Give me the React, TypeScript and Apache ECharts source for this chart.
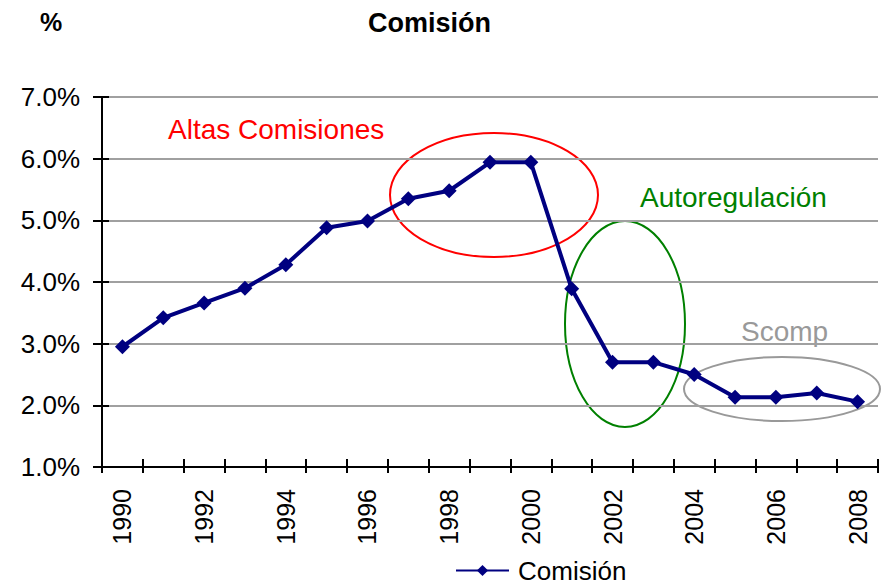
import React, { useEffect, useRef } from "react";
import * as echarts from "echarts";

const years = ["1990","1991","1992","1993","1994","1995","1996","1997","1998","1999","2000","2001","2002","2003","2004","2005","2006","2007","2008"];
const comision = [2.95, 3.42, 3.66, 3.9, 4.28, 4.88, 4.99, 5.35, 5.48, 5.94, 5.94, 3.89, 2.7, 2.7, 2.5, 2.13, 2.13, 2.2, 2.06];
const yTicks = { min: 1, max: 7, interval: 1 };
const seriesName = "Comisión";

const FONT = "Arial, 'Liberation Sans', sans-serif";

export default function App() {
  const ref = useRef<HTMLDivElement>(null);
  useEffect(() => {
    if (!ref.current) return;
    const chart = echarts.init(ref.current, null, { renderer: "svg" });
    chart.setOption({
      animation: false,
      backgroundColor: "#ffffff",
      textStyle: { fontFamily: FONT },
      title: [
        { text: "%", left: 35, top: 4, textStyle: { fontSize: 25, fontWeight: "bold", color: "#000", fontFamily: FONT } },
        { text: "Comisión", left: 363, top: 4, textStyle: { fontSize: 27, fontWeight: "bold", color: "#000", fontFamily: FONT } },
      ],
      legend: {
        data: [seriesName],
        left: 455,
        top: 557,
        padding: 0,
        itemWidth: 53,
        itemHeight: 14,
        textStyle: { fontSize: 26, lineHeight: 27, color: "#000", fontFamily: FONT, padding: [0, 0, 0, 4] },
      },
      grid: { left: 102, right: 9, top: 97, bottom: 119, containLabel: false },
      xAxis: [
        {
          type: "category",
          data: years,
          position: "bottom",
          axisLine: { lineStyle: { color: "#000", width: 2 } },
          axisTick: { show: true, interval: 0, length: 6, inside: false, lineStyle: { color: "#000", width: 2 } },
          axisLabel: { interval: 1, rotate: 90, margin: 22, fontSize: 25, color: "#000", fontFamily: FONT },
          splitLine: { show: false },
        },
        {
          type: "category",
          data: years,
          position: "bottom",
          axisLine: { show: false },
          axisTick: { show: true, interval: 0, length: 8, inside: true, lineStyle: { color: "#000", width: 2 } },
          axisLabel: { show: false },
          splitLine: { show: false },
        },
      ],
      yAxis: [
        {
          type: "value",
          min: yTicks.min,
          max: yTicks.max,
          interval: yTicks.interval,
          position: "left",
          axisLine: { show: true, lineStyle: { color: "#000", width: 2 } },
          axisTick: { show: true, length: 9, lineStyle: { color: "#000", width: 2 } },
          axisLabel: { margin: 22, fontSize: 26, color: "#000", fontFamily: FONT, formatter: (v: number) => v.toFixed(1) + "%" },
          splitLine: { show: true, lineStyle: { color: "#a0a0a0", width: 2 } },
        },
        {
          type: "value",
          min: yTicks.min,
          max: yTicks.max,
          interval: yTicks.interval,
          position: "left",
          axisLine: { show: false },
          axisTick: { show: true, inside: true, length: 7, lineStyle: { color: "#000", width: 2 } },
          axisLabel: { show: false },
          splitLine: { show: false },
        },
      ],
      series: [
        {
          name: seriesName,
          type: "line",
          data: comision,
          xAxisIndex: 0,
          yAxisIndex: 0,
          symbol: "diamond",
          symbolSize: 15,
          showAllSymbol: true,
          itemStyle: { color: "#000080" },
          lineStyle: { color: "#000080", width: 4 },
        },
      ],
      graphic: [
        { type: "ellipse", shape: { cx: 494, cy: 195, rx: 104, ry: 62 }, style: { fill: "none", stroke: "#ff0000", lineWidth: 2 } },
        { type: "ellipse", shape: { cx: 625, cy: 324, rx: 60, ry: 103 }, style: { fill: "none", stroke: "#008000", lineWidth: 2 } },
        { type: "ellipse", shape: { cx: 782, cy: 389, rx: 98, ry: 32 }, style: { fill: "none", stroke: "#999999", lineWidth: 2 } },
        { type: "text", left: 168, top: 115, style: { text: "Altas Comisiones", fill: "#ff0000", fontSize: 28, fontFamily: FONT } },
        { type: "text", left: 640, top: 183, style: { text: "Autoregulación", fill: "#008000", fontSize: 28, fontFamily: FONT } },
        { type: "text", left: 741, top: 317, style: { text: "Scomp", fill: "#999999", fontSize: 28, fontFamily: FONT } },
      ],
    });
    return () => chart.dispose();
  }, []);
  return <div ref={ref} style={{ width: 887, height: 586, position: "absolute", left: 0, top: 0 }} />;
}
